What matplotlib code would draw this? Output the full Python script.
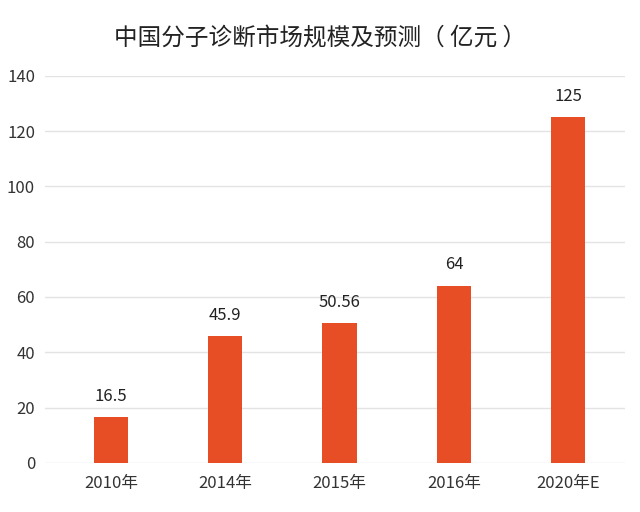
import matplotlib
matplotlib.use('Agg')
import matplotlib.pyplot as plt

plt.rcParams['font.family'] = ['Noto Sans CJK SC', 'DejaVu Sans']

years = ['2010年', '2014年', '2015年', '2016年', '2020年E']
values = [16.5, 45.9, 50.56, 64, 125]
labels = ['16.5', '45.9', '50.56', '64', '125']

fig = plt.figure(figsize=(6.4, 5.12), dpi=100)
ax = fig.add_axes([0.07, 0.096, 0.907, 0.756])

bars = ax.bar(range(len(years)), values, width=0.3, color='#E84E26', zorder=3)
for b, t in zip(bars, labels):
    ax.text(b.get_x() + b.get_width() / 2, b.get_height() + 4.5, t,
            ha='center', va='bottom', fontsize=12, color='#222222')

ax.set_ylim(0, 140)
ax.set_yticks(range(0, 141, 20))
ax.set_xlim(-0.58, 4.5)
ax.set_xticks(range(len(years)))
ax.set_xticklabels(years)
ax.grid(axis='y', color='#E3E3E3', linewidth=1, zorder=0)
for s in ax.spines.values():
    s.set_visible(False)
ax.tick_params(length=0, labelsize=12, colors='#333333')
ax.tick_params(axis='x', pad=9)
ax.tick_params(axis='y', pad=7)

fig.text(0.5, 0.925, '中国分子诊断市场规模及预测（ 亿元 ）', ha='center', va='center',
         fontsize=17, color='#222222')

fig.savefig('out.png', dpi=100)
